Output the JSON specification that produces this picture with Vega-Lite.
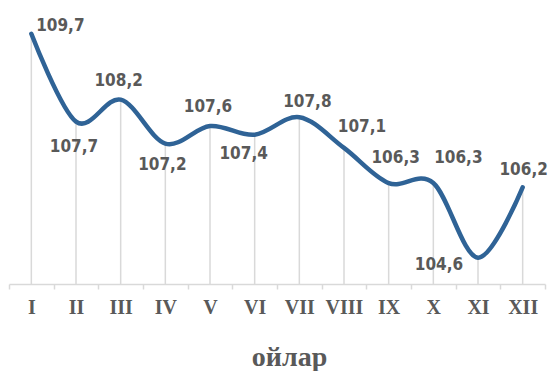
{
  "$schema": "https://vega.github.io/schema/vega-lite/v6.json",
  "width": 536,
  "height": 284,
  "autosize": {"type": "none"},
  "padding": {"left": 9, "top": 0, "right": 5, "bottom": 87},
  "background": "white",
  "config": {
    "view": {"stroke": null},
    "locale": {"number": {"decimal": ",", "thousands": " ", "grouping": [3], "currency": ["", ""]}},
    "text": {"font": "DejaVu Sans Condensed", "fontWeight": "bold", "fontSize": 17, "color": "#595959"}
  },
  "data": {
    "values": [
      {"m": "I", "v": 109.7},
      {"m": "II", "v": 107.7},
      {"m": "III", "v": 108.2},
      {"m": "IV", "v": 107.2},
      {"m": "V", "v": 107.6},
      {"m": "VI", "v": 107.4},
      {"m": "VII", "v": 107.8},
      {"m": "VIII", "v": 107.1},
      {"m": "IX", "v": 106.3},
      {"m": "X", "v": 106.3},
      {"m": "XI", "v": 104.6},
      {"m": "XII", "v": 106.2}
    ]
  },
  "encoding": {
    "x": {
      "field": "m", "type": "ordinal", "sort": null, "bandPosition": 0.5,
      "scale": {"type": "band", "paddingInner": 0, "paddingOuter": 0},
      "axis": {
        "title": "ойлар",
        "tickBand": "extent",
        "grid": false,
        "domainColor": "#d9d9d9", "domainWidth": 1.5,
        "tickColor": "#d9d9d9", "tickWidth": 1.5, "tickSize": 5,
        "labelFont": "Liberation Serif", "labelFontWeight": "bold", "labelFontSize": 20,
        "labelColor": "#595959", "labelPadding": 8, "labelAngle": 0,
        "labelOverlap": false, "labelBound": false,
        "titleFont": "Liberation Serif", "titleFontSize": 28, "titleFontWeight": "bold",
        "titleColor": "#595959", "titleBaseline": "alphabetic", "titleAlign": "center",
        "titleX": 280, "titleY": 81
      }
    },
    "y": {"field": "v", "type": "quantitative", "scale": {"domain": [104, 110.47], "nice": false, "zero": false}, "axis": null}
  },
  "layer": [
    {"mark": {"type": "rule", "color": "#d9d9d9", "strokeWidth": 1.5}, "encoding": {"y2": {"datum": 104}}},
    {"mark": {"type": "line", "interpolate": "cardinal", "tension": 0, "color": "#2f6396", "strokeWidth": 4.5, "strokeCap": "round", "strokeJoin": "round"}, "encoding": {}},
    {"transform": [{"filter": "datum.m == 'I'"}], "mark": {"type": "text", "dx": 29, "dy": -8}, "encoding": {"text": {"field": "v", "type": "quantitative", "format": ".1f"}}},
    {"transform": [{"filter": "datum.m == 'II'"}], "mark": {"type": "text", "dx": -2, "dy": 25}, "encoding": {"text": {"field": "v", "type": "quantitative", "format": ".1f"}}},
    {"transform": [{"filter": "datum.m == 'III'"}], "mark": {"type": "text", "dx": -2, "dy": -19}, "encoding": {"text": {"field": "v", "type": "quantitative", "format": ".1f"}}},
    {"transform": [{"filter": "datum.m == 'IV'"}], "mark": {"type": "text", "dx": -3, "dy": 21}, "encoding": {"text": {"field": "v", "type": "quantitative", "format": ".1f"}}},
    {"transform": [{"filter": "datum.m == 'V'"}], "mark": {"type": "text", "dx": -2, "dy": -19}, "encoding": {"text": {"field": "v", "type": "quantitative", "format": ".1f"}}},
    {"transform": [{"filter": "datum.m == 'VI'"}], "mark": {"type": "text", "dx": -11, "dy": 19}, "encoding": {"text": {"field": "v", "type": "quantitative", "format": ".1f"}}},
    {"transform": [{"filter": "datum.m == 'VII'"}], "mark": {"type": "text", "dx": 8, "dy": -15}, "encoding": {"text": {"field": "v", "type": "quantitative", "format": ".1f"}}},
    {"transform": [{"filter": "datum.m == 'VIII'"}], "mark": {"type": "text", "dx": 18, "dy": -21}, "encoding": {"text": {"field": "v", "type": "quantitative", "format": ".1f"}}},
    {"transform": [{"filter": "datum.m == 'IX'"}], "mark": {"type": "text", "dx": 7, "dy": -25}, "encoding": {"text": {"field": "v", "type": "quantitative", "format": ".1f"}}},
    {"transform": [{"filter": "datum.m == 'X'"}], "mark": {"type": "text", "dx": 25, "dy": -25}, "encoding": {"text": {"field": "v", "type": "quantitative", "format": ".1f"}}},
    {"transform": [{"filter": "datum.m == 'XI'"}], "mark": {"type": "text", "dx": -39, "dy": 7}, "encoding": {"text": {"field": "v", "type": "quantitative", "format": ".1f"}}},
    {"transform": [{"filter": "datum.m == 'XII'"}], "mark": {"type": "text", "dx": 1, "dy": -17}, "encoding": {"text": {"field": "v", "type": "quantitative", "format": ".1f"}}}
  ]
}
